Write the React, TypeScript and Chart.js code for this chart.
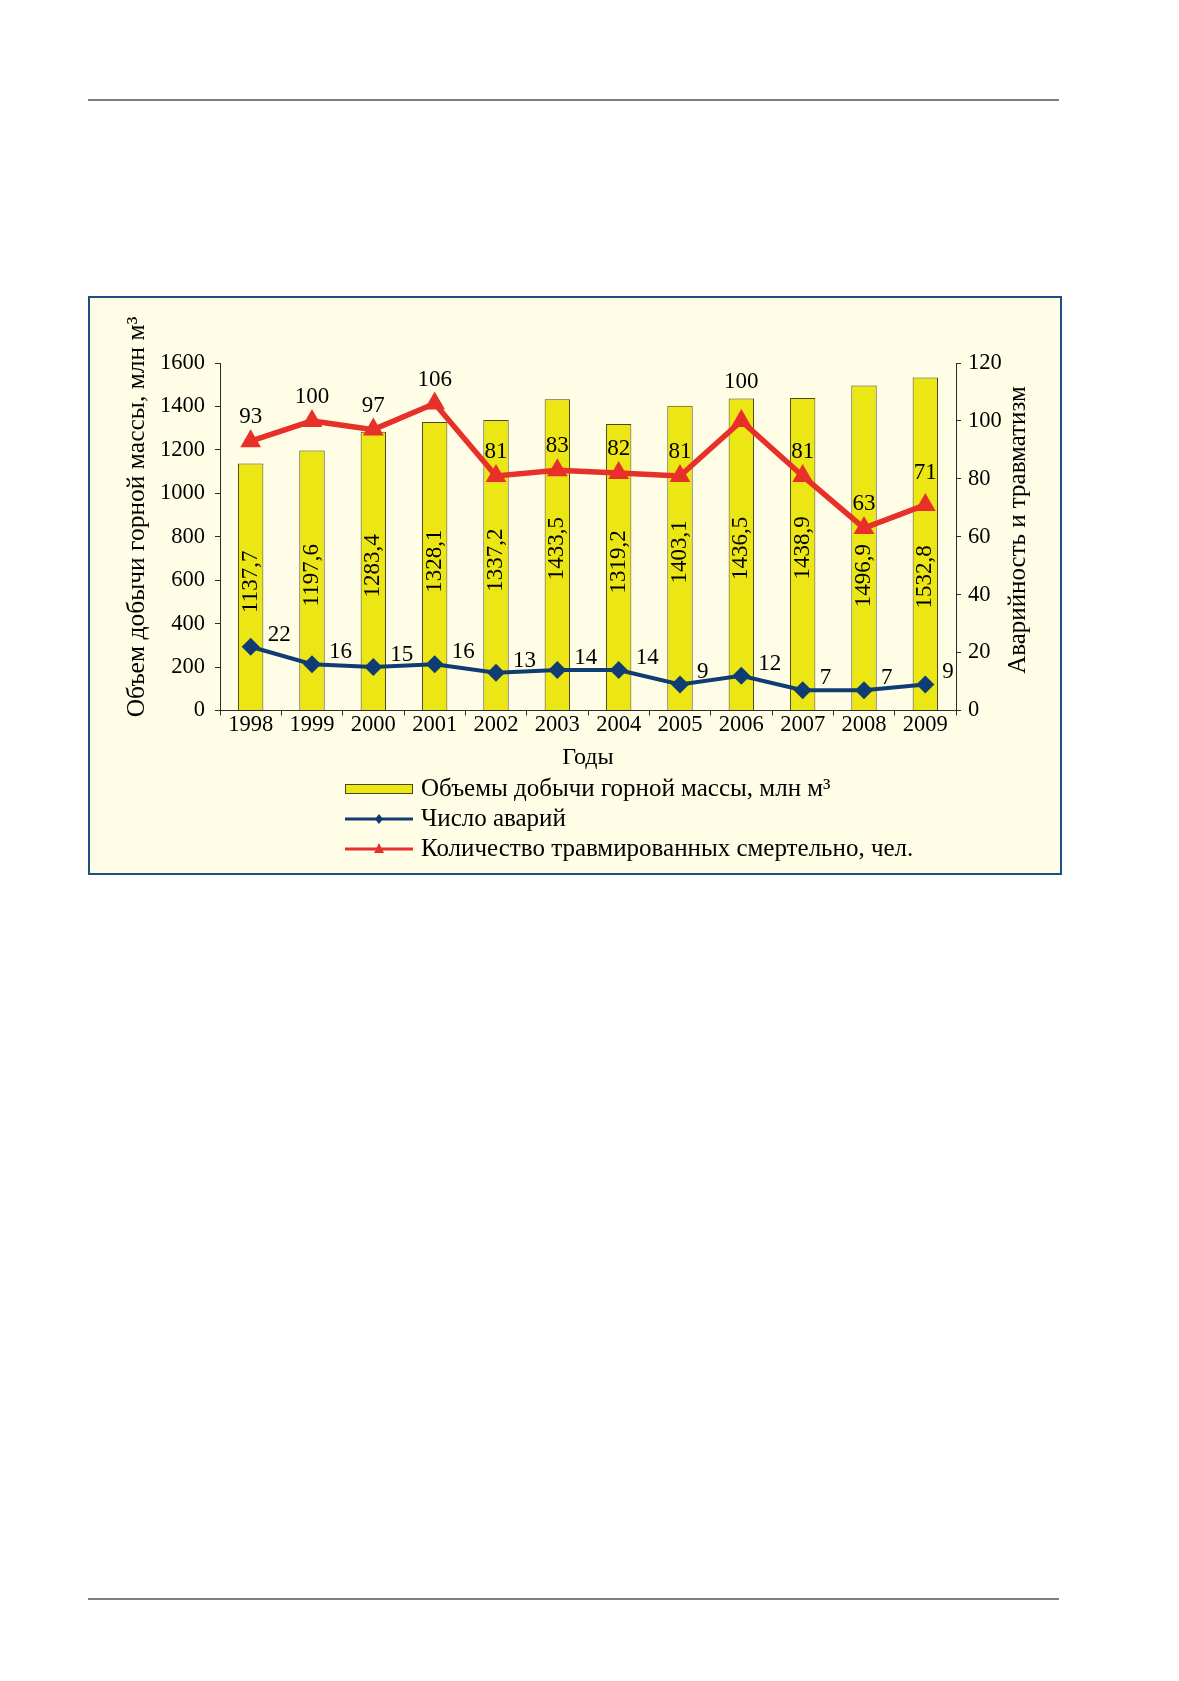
import { useEffect, useRef } from 'react'
import { Chart, registerables } from 'chart.js'

Chart.register(...registerables)

const years = ['1998', '1999', '2000', '2001', '2002', '2003', '2004', '2005', '2006', '2007', '2008', '2009']
const volumes = [1137.7, 1197.6, 1283.4, 1328.1, 1337.2, 1433.5, 1319.2, 1403.1, 1436.5, 1438.9, 1496.9, 1532.8]
const accidents = [22, 16, 15, 16, 13, 14, 14, 9, 12, 7, 7, 9]
const fatalities = [93, 100, 97, 106, 81, 83, 82, 81, 100, 81, 63, 71]
const leftTicks = [0, 200, 400, 600, 800, 1000, 1200, 1400, 1600]
const rightTicks = [0, 20, 40, 60, 80, 100, 120]

const volumeLabel = 'Объемы добычи горной массы, млн м³'
const accidentLabel = 'Число аварий'
const fatalityLabel = 'Количество травмированных смертельно, чел.'
const leftTitle = 'Объем добычи горной массы, млн м³'
const rightTitle = 'Аварийность и травматизм'

const SERIF = '"Liberation Serif", "Times New Roman", serif'
const BAR_FILL = '#ece614'
const BAR_EDGE = '#4a4718'
const BLUE = '#0f3d73'
const RED = '#e8302b'
const AXIS = '#2b2b2b'

const fmt = (v: number) => v.toFixed(1).replace('.', ',')

// подписи столбцов, точек, легенда и вертикальные заголовки осей
const annotate = {
  id: 'annotate',
  afterDatasetDraw(chart: any, args: any, opts: any) {
    if (args.meta.type !== 'bar') return
    const ctx = chart.ctx
    ctx.save()
    ctx.fillStyle = '#000'
    ctx.font = `23px ${SERIF}`
    ctx.textAlign = 'center'
    ctx.textBaseline = 'middle'
    args.meta.data.forEach((bar: any, i: number) => {
      const { x, y, base } = bar.getProps(['x', 'y', 'base'], true)
      ctx.save()
      ctx.translate(x, (y + base) / 2 + (opts.barShift[i] || 0))
      ctx.rotate(-Math.PI / 2)
      ctx.fillText(fmt(volumes[i]), 0, 0)
      ctx.restore()
    })
    ctx.restore()
  },
  afterDatasetsDraw(chart: any, _args: any, opts: any) {
    const ctx = chart.ctx
    ctx.save()
    ctx.fillStyle = '#000'
    ctx.font = `23px ${SERIF}`
    ctx.textBaseline = 'middle'
    chart.getDatasetMeta(1).data.forEach((pt: any, i: number) => {
      ctx.textAlign = 'left'
      ctx.fillText(String(accidents[i]), pt.x + 17, pt.y - 12)
    })
    chart.getDatasetMeta(2).data.forEach((pt: any, i: number) => {
      ctx.textAlign = 'center'
      ctx.fillText(String(fatalities[i]), pt.x, pt.y - 24 + (opts.redShift[i] || 0))
    })
    ctx.restore()
  },
  afterDraw(chart: any) {
    const ctx = chart.ctx
    ctx.save()
    ctx.fillStyle = '#000'
    ctx.textBaseline = 'middle'
    ctx.textAlign = 'center'
    ctx.font = `25.5px ${SERIF}`
    ctx.translate(47, 219)
    ctx.rotate(-Math.PI / 2)
    ctx.fillText(leftTitle, 0, 0)
    ctx.restore()

    ctx.save()
    ctx.fillStyle = '#000'
    ctx.textBaseline = 'middle'
    ctx.textAlign = 'center'
    ctx.font = `25px ${SERIF}`
    ctx.translate(928, 232)
    ctx.rotate(-Math.PI / 2)
    ctx.fillText(rightTitle, 0, 0)
    ctx.restore()

    // legend
    const x0 = 255
    const x1 = 323
    const rows = [491, 521, 551]
    ctx.save()
    ctx.fillStyle = BAR_FILL
    ctx.strokeStyle = BAR_EDGE
    ctx.lineWidth = 1
    ctx.fillRect(x0, rows[0] - 5, x1 - x0, 10)
    ctx.strokeRect(x0 + 0.5, rows[0] - 4.5, x1 - x0 - 1, 9)

    ctx.lineWidth = 3
    ctx.strokeStyle = BLUE
    ctx.beginPath()
    ctx.moveTo(x0, rows[1])
    ctx.lineTo(x1, rows[1])
    ctx.stroke()
    ctx.fillStyle = BLUE
    const mx = (x0 + x1) / 2
    ctx.beginPath()
    ctx.moveTo(mx, rows[1] - 5)
    ctx.lineTo(mx + 4, rows[1])
    ctx.lineTo(mx, rows[1] + 5)
    ctx.lineTo(mx - 4, rows[1])
    ctx.closePath()
    ctx.fill()

    ctx.strokeStyle = RED
    ctx.beginPath()
    ctx.moveTo(x0, rows[2])
    ctx.lineTo(x1, rows[2])
    ctx.stroke()
    ctx.fillStyle = RED
    ctx.beginPath()
    ctx.moveTo(mx, rows[2] - 6)
    ctx.lineTo(mx + 5, rows[2] + 4)
    ctx.lineTo(mx - 5, rows[2] + 4)
    ctx.closePath()
    ctx.fill()

    ctx.fillStyle = '#000'
    ctx.font = `25px ${SERIF}`
    ctx.textAlign = 'left'
    ctx.textBaseline = 'middle'
    ;[volumeLabel, accidentLabel, fatalityLabel].forEach((t, i) => ctx.fillText(t, x1 + 8, rows[i]))
    ctx.restore()
  }
}

export default function App() {
  const canvasRef = useRef<HTMLCanvasElement>(null)
  const chartRef = useRef<Chart | null>(null)

  useEffect(() => {
    document.body.style.margin = '0'
    if (!canvasRef.current) return
    if (chartRef.current) chartRef.current.destroy()

    const tickFont = { family: SERIF, size: 22.5, lineHeight: 1 }
    const plain = (v: any) => String(v)

    chartRef.current = new Chart(canvasRef.current, {
      type: 'bar',
      data: {
        labels: years,
        datasets: [
          {
            type: 'bar',
            label: volumeLabel,
            data: volumes,
            yAxisID: 'y',
            backgroundColor: BAR_FILL,
            borderColor: BAR_EDGE,
            borderWidth: 1,
            categoryPercentage: 1,
            barPercentage: 0.414,
            order: 3
          },
          {
            type: 'line',
            label: accidentLabel,
            data: accidents,
            yAxisID: 'y1',
            borderColor: BLUE,
            backgroundColor: BLUE,
            borderWidth: 4,
            pointStyle: 'rectRot',
            pointRadius: 9,
            pointBorderWidth: 0,
            tension: 0,
            order: 2
          },
          {
            type: 'line',
            label: fatalityLabel,
            data: fatalities,
            yAxisID: 'y1',
            borderColor: RED,
            backgroundColor: RED,
            borderWidth: 5.5,
            pointStyle: 'triangle',
            pointRadius: 12,
            pointBorderWidth: 0,
            tension: 0,
            order: 1
          }
        ]
      } as any,
      options: {
        animation: false,
        responsive: true,
        maintainAspectRatio: false,
        layout: { padding: { top: 65, left: 0, right: 0, bottom: 100.5 } },
        plugins: {
          legend: { display: false },
          tooltip: { enabled: false },
          annotate: {
            barShift: [-5, -5, -5, -5, -5, -6, -5, -6, -6, -6, 28, 33],
            redShift: [0, 0, 0, 0, 0, 0, 0, 0, -15, 0, 0, -8]
          }
        } as any,
        scales: {
          x: {
            offset: true,
            grid: { offset: true, drawOnChartArea: false, tickLength: 5, color: AXIS },
            border: { color: AXIS, width: 1 },
            ticks: { font: tickFont, color: '#000', padding: -2, maxRotation: 0 },
            title: { display: true, text: 'Годы', font: { family: SERIF, size: 24 }, color: '#000', padding: 0 },
            afterFit: (s: any) => { s.height = 62 }
          },
          y: {
            position: 'left',
            min: 0,
            max: 1600,
            afterBuildTicks: (s: any) => { s.ticks = leftTicks.map((value) => ({ value })) },
            grid: { drawOnChartArea: false, tickLength: 5, color: AXIS },
            border: { color: AXIS, width: 1 },
            ticks: { font: tickFont, color: '#000', padding: 10, callback: plain },
            afterFit: (s: any) => { s.width = 130 }
          },
          y1: {
            position: 'right',
            min: 0,
            max: 120,
            afterBuildTicks: (s: any) => { s.ticks = rightTicks.map((value) => ({ value })) },
            grid: { drawOnChartArea: false, tickLength: 5, color: AXIS },
            border: { color: AXIS, width: 1 },
            ticks: { font: tickFont, color: '#000', padding: 7, callback: plain },
            afterFit: (s: any) => { s.width = 104 }
          }
        } as any
      },
      plugins: [annotate]
    })

    return () => {
      if (chartRef.current) {
        chartRef.current.destroy()
        chartRef.current = null
      }
    }
  }, [])

  return (
    <div style={{ position: 'relative', width: 1179, height: 1681, background: '#fff' }}>
      <div style={{ position: 'absolute', left: 88, top: 98.5, width: 971, height: 2, background: '#7d7d7d' }} />
      <div
        style={{
          position: 'absolute',
          left: 88,
          top: 296,
          width: 970,
          height: 575,
          border: '2px solid #1d4f80',
          background: '#fffde5'
        }}
      >
        <canvas ref={canvasRef} />
      </div>
      <div style={{ position: 'absolute', left: 88, top: 1597.5, width: 971, height: 2, background: '#7d7d7d' }} />
    </div>
  )
}
